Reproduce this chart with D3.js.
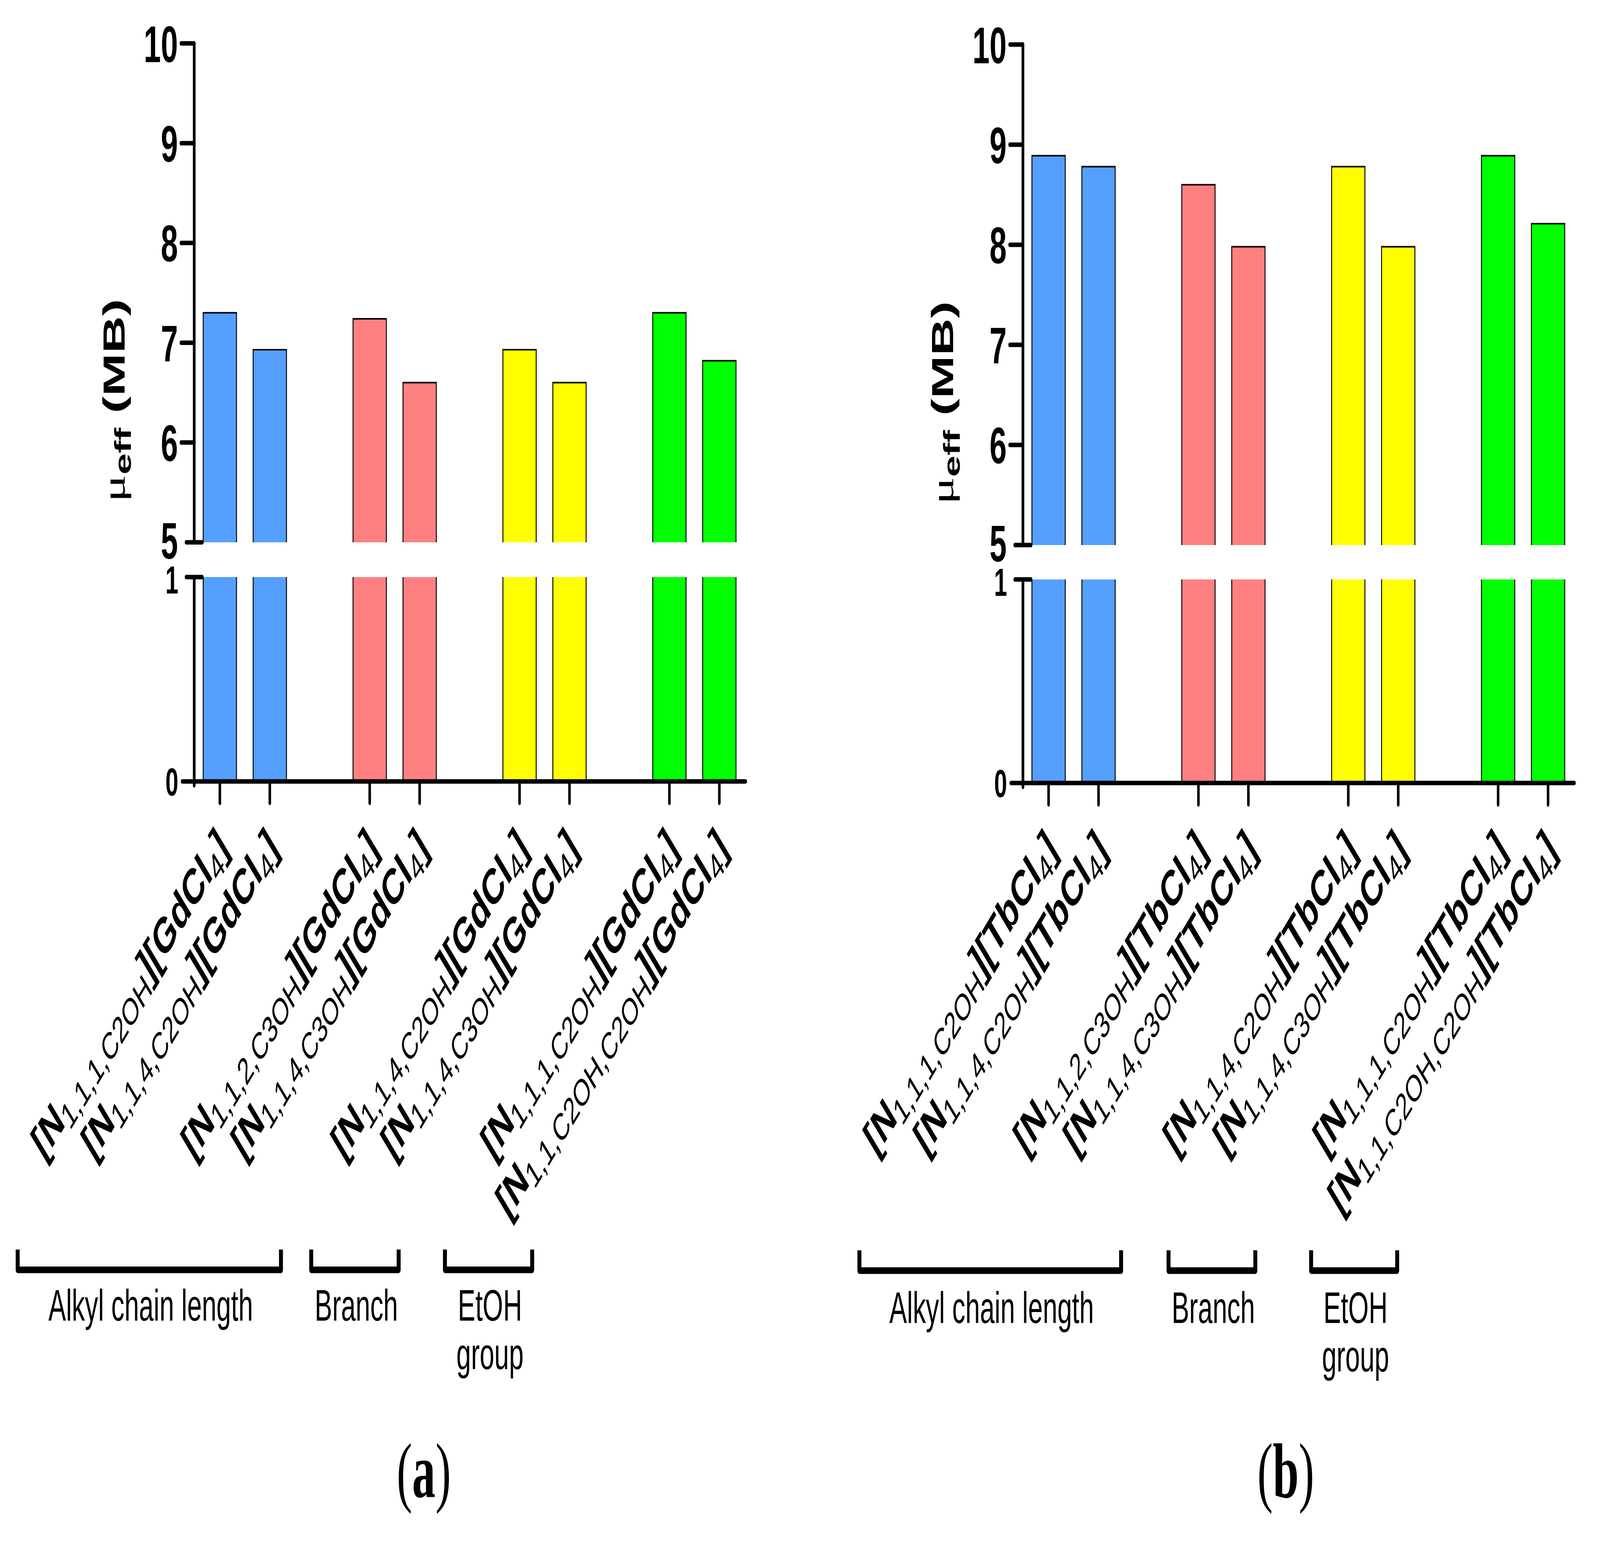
<!DOCTYPE html>
<html>
<head>
<meta charset="utf-8">
<script src="https://cdn.jsdelivr.net/npm/d3@7"></script>
<style>
html, body { margin: 0; padding: 0; width: 100%; height: 100%; overflow: hidden; background: #fff; }
div#chart { width: 100vw; height: 100vh; }
svg { display: block; }
text { font-family: "Liberation Sans", Arial, sans-serif; fill: #000; }
</style>
</head>
<body>
<div id="chart"></div>
<script>
// datos
const cations = ["1,1,1,C2OH", "1,1,4,C2OH", "1,1,2,C3OH", "1,1,4,C3OH", "1,1,4,C2OH", "1,1,4,C3OH", "1,1,1,C2OH", "1,1,C2OH,C2OH"]
const slots = ["s0", "s1", "g1", "s2", "s3", "g2", "s4", "s5", "g3", "s6", "s7"]   // g* = hueco entre parejas
const barSlots = ["s0", "s1", "s2", "s3", "s4", "s5", "s6", "s7"]
const barColors = ["#559FFF", "#559FFF", "#FF8080", "#FF8080", "#FFFF00", "#FFFF00", "#00FF00", "#00FF00"]
const gdValues = [7.30, 6.93, 7.24, 6.60, 6.93, 6.60, 7.30, 6.82]
const tbValues = [8.89, 8.78, 8.60, 7.98, 8.78, 7.98, 8.89, 8.21]
const topTicks = [5, 6, 7, 8, 9, 10]
const bottomTicks = [0, 1]
const groupNames = [["Alkyl chain length"], ["Branch"], ["EtOH", "group"]]

const width = 6879
const height = 3944

const panels = [
    { anion: "GdCl", values: gdValues, letter: "a", x0: 835, x1: 3203, y10: 111, y5: 1388, y1: 1477, y0: 2000,
      labelY: 2175, titleY: 1025, brackets: [[76, 1208], [1338, 1714], [1913, 2288]], bracketY: 3198, capY: 3380, letterX: 1822 },
    { anion: "TbCl", values: tbValues, letter: "b", x0: 4398, x1: 6766, y10: 114, y5: 1395, y1: 1483, y0: 2004,
      labelY: 2179, titleY: 1031, brackets: [[3695, 4820], [5024, 5397], [5637, 6007]], bracketY: 3200, capY: 3386, letterX: 5528 }
]

// el svg ocupa toda la ventana (viewBox estirado)
const svg = d3.select("div#chart").append("svg")
    .attr("viewBox", `0 0 ${width} ${height}`)
    .attr("preserveAspectRatio", "none")
    .attr("width", "100%").attr("height", "100%")
svg.append("rect").attr("width", width).attr("height", height).attr("fill", "#fff")

panels.forEach(p => drawPanel(p))

function drawPanel(p) {
    const g = svg.append("g").attr("class", "panel")

    const x = d3.scaleBand().domain(slots).range([p.x0, p.x1]).paddingInner(0.333).paddingOuter(0.18)
    const yTop = d3.scaleLinear().domain([5, 10]).range([p.y5, p.y10])
    const yBot = d3.scaleLinear().domain([0, 1]).range([p.y0, p.y1])
    const cx = s => x(s) + x.bandwidth() / 2

    // barras (dos tramos por el corte del eje)
    const bars = g.selectAll("g.bar").data(p.values).enter().append("g").attr("class", "bar")
    bars.append("rect")
        .attr("x", (d, i) => x(barSlots[i]))
        .attr("y", d => yTop(d))
        .attr("width", x.bandwidth())
        .attr("height", d => p.y5 - yTop(d))
        .attr("fill", (d, i) => barColors[i])
    bars.append("path")
        .attr("d", (d, i) => `M${x(barSlots[i])},${p.y5}V${yTop(d)}H${x(barSlots[i]) + x.bandwidth()}V${p.y5}`)
        .attr("fill", "none").attr("stroke", "#000").attr("stroke-width", 4)
    bars.append("rect")
        .attr("x", (d, i) => x(barSlots[i]))
        .attr("y", p.y1)
        .attr("width", x.bandwidth())
        .attr("height", p.y0 - p.y1)
        .attr("fill", (d, i) => barColors[i])
    bars.append("path")
        .attr("d", (d, i) => `M${x(barSlots[i])},${p.y1}V${p.y0}M${x(barSlots[i]) + x.bandwidth()},${p.y1}V${p.y0}`)
        .attr("fill", "none").attr("stroke", "#000").attr("stroke-width", 4)

    // ejes
    const axis = g.append("g").attr("stroke", "#000").attr("stroke-width", 11.5).attr("stroke-linecap", "round")
    axis.append("line").attr("x1", p.x0).attr("x2", p.x0).attr("y1", yTop(10)).attr("y2", yTop(5))
    axis.append("line").attr("x1", p.x0).attr("x2", p.x0).attr("y1", yBot(1)).attr("y2", yBot(0) + 10)
    axis.append("line").attr("x1", p.x0 - 52).attr("x2", p.x1 + 3).attr("y1", yBot(0)).attr("y2", yBot(0))
    axis.selectAll("line.ytick").data(topTicks.filter(t => t > 5)).enter().append("line")
        .attr("class", "ytick")
        .attr("x1", p.x0 - 57).attr("x2", p.x0).attr("y1", d => yTop(d)).attr("y2", d => yTop(d))
    // marcas del corte
    axis.append("line").attr("x1", p.x0 - 35).attr("x2", p.x0 + 35).attr("y1", yTop(5)).attr("y2", yTop(5))
    axis.append("line").attr("x1", p.x0 - 35).attr("x2", p.x0 + 35).attr("y1", yBot(1)).attr("y2", yBot(1))
    axis.selectAll("line.xtick").data(barSlots).enter().append("line")
        .attr("class", "xtick").attr("stroke-width", 11)
        .attr("x1", d => cx(d)).attr("x2", d => cx(d)).attr("y1", yBot(0)).attr("y2", yBot(0) + 55)

    g.selectAll("text.ytop").data(topTicks).enter().append("text")
        .attr("class", "ytop")
        .attr("x", p.x0 - 70).attr("y", d => yTop(d) - (d === 5 ? 6 : 0)).attr("dy", "0.36em")
        .attr("text-anchor", "end").attr("font-weight", "bold").attr("font-size", 132)
        .text(d => d)
    g.selectAll("text.ybot").data(bottomTicks).enter().append("text")
        .attr("class", "ybot")
        .attr("x", p.x0 - 68).attr("y", d => yBot(d) + (d === 1 ? 6 : 0)).attr("dy", "0.36em")
        .attr("text-anchor", "end").attr("font-weight", "bold").attr("font-size", 100)
        .text(d => d)

    // titulo eje y
    const t = g.append("text")
        .attr("transform", `translate(${p.x0 - 300},${p.titleY}) rotate(-90)`)
        .attr("text-anchor", "middle").attr("font-weight", "bold").attr("font-size", 132)
    t.append("tspan").attr("font-family", "Liberation Serif").attr("font-weight", "normal").attr("font-size", 132).text("μ")
    t.append("tspan").attr("font-size", 98).attr("dy", 28).text("eff")
    t.append("tspan").attr("dy", -28).text(" (MB)")

    // etiquetas eje x
    barSlots.forEach((s, i) => {
        const lab = g.append("text")
            .attr("transform", `translate(${cx(s) + 42},${p.labelY}) rotate(-45)`)
            .attr("text-anchor", "end")
        lab.append("tspan").attr("font-weight", "bold").attr("font-size", 128).text("[N")
        lab.append("tspan").attr("font-size", 96).attr("dy", 24).text(cations[i])
        lab.append("tspan").attr("font-weight", "bold").attr("font-size", 128).attr("dy", -24).text("][" + p.anion)
        lab.append("tspan").attr("font-size", 96).attr("dy", 24).text("4")
        lab.append("tspan").attr("font-weight", "bold").attr("font-size", 128).attr("dy", -24).text("]")
    })

    // corchetes de grupo
    p.brackets.forEach((b, i) => {
        g.append("path")
            .attr("d", `M${b[0]},${p.bracketY}V${p.bracketY + 52}H${b[1]}V${p.bracketY}`)
            .attr("fill", "none").attr("stroke", "#000").attr("stroke-width", 17).attr("stroke-linejoin", "round")
        groupNames[i].forEach((line, j) => {
            g.append("text")
                .attr("x", (b[0] + b[1]) / 2 + 6).attr("y", p.capY + j * 124)
                .attr("text-anchor", "middle").attr("font-size", 113)
                .text(line)
        })
    })

    // letra del panel
    const l = g.append("text")
        .attr("x", p.letterX).attr("y", 3832)
        .attr("text-anchor", "middle").attr("font-size", 200)
        .style("font-family", "'Liberation Serif', 'Times New Roman', serif")
    l.append("tspan").text("(")
    l.append("tspan").attr("font-weight", "bold").text(p.letter)
    l.append("tspan").text(")")
}
</script>
</body>
</html>
